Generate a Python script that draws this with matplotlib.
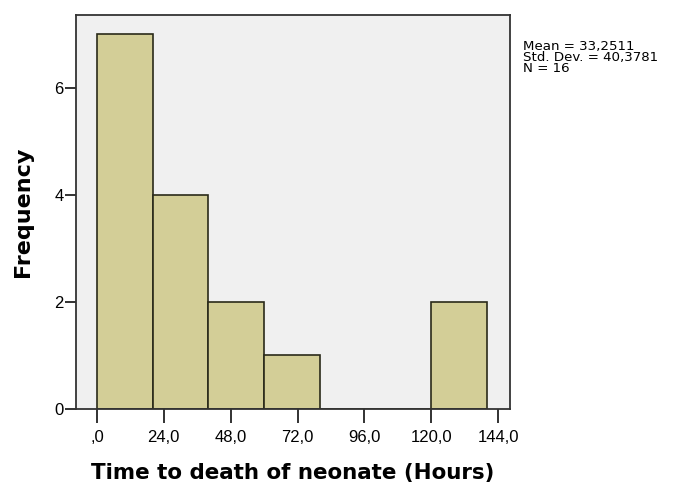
import numpy as np
import matplotlib
matplotlib.use("Agg")
import matplotlib.pyplot as plt

# histogram bins (hours) and counts
bin_edges = [0, 20, 40, 60, 80, 100, 120, 140]
counts = [7, 4, 2, 1, 0, 0, 2]
x_ticks = [0, 24, 48, 72, 96, 120, 144]
x_tick_labels = [",0", "24,0", "48,0", "72,0", "96,0", "120,0", "144,0"]
y_ticks = [0, 2, 4, 6]
stats_text = "Mean = 33,2511\nStd. Dev. = 40,3781\nN = 16"

fig = plt.figure(figsize=(6.74, 4.88), dpi=100)
ax = fig.add_axes([0.1128, 0.1619, 0.644, 0.807])
ax.set_facecolor("#f0f0f0")

edges = np.array(bin_edges)
ax.bar(edges[:-1], counts, width=np.diff(edges), align="edge",
       color="#d3ce97", edgecolor="#2a2a1a", linewidth=1.2, zorder=2)

ax.set_xlim(-7.5, 148.3)
ax.set_ylim(0, 7.36)

ax.set_xticks(x_ticks)
ax.set_xticklabels(x_tick_labels, fontfamily="Liberation Sans", fontsize=12)
ax.set_yticks(y_ticks)
ax.set_yticklabels([str(v) for v in y_ticks], fontfamily="Liberation Sans", fontsize=12)
ax.tick_params(axis="x", length=10, width=1.3, pad=5, color="#222222", direction="out")
ax.tick_params(axis="y", length=8, width=1.3, pad=1, color="#222222")
for sp in ax.spines.values():
    sp.set_linewidth(1.3)
    sp.set_color("#333333")

ax.set_xlabel("Time to death of neonate (Hours)", fontsize=15.4, fontweight="bold",
              fontfamily="DejaVu Sans", labelpad=13)
ax.set_ylabel("Frequency", fontsize=16, fontweight="bold",
              fontfamily="DejaVu Sans", labelpad=15)

fig.text(0.776, 0.918, stats_text, fontsize=9.6, fontfamily="DejaVu Sans",
         va="top", ha="left", linespacing=0.8)

fig.savefig("out.png", dpi=100)
